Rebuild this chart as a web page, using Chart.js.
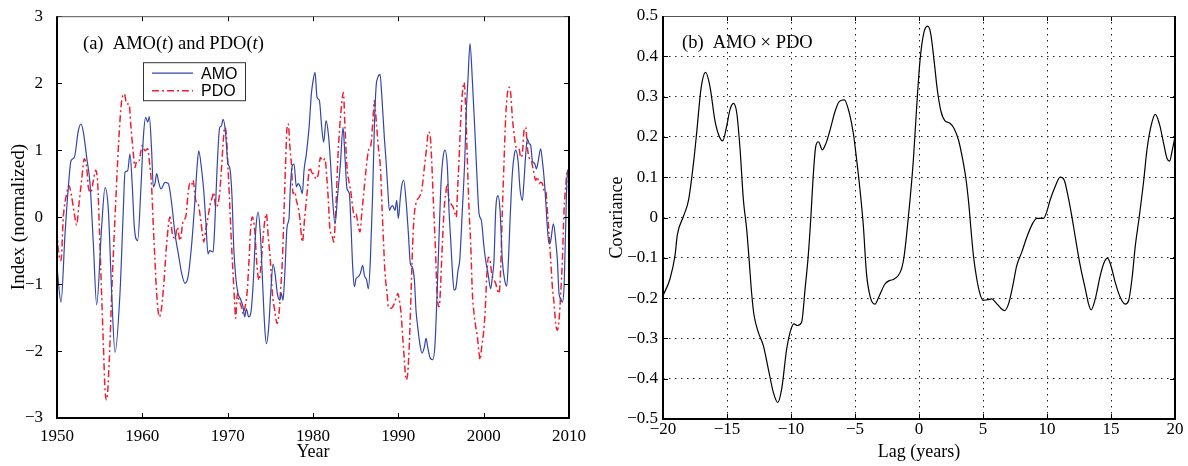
<!DOCTYPE html>
<html>
<head>
<meta charset="utf-8">
<script src="https://cdn.jsdelivr.net/npm/chart.js@4.4.1/dist/chart.umd.min.js"></script>
<style>
body { margin: 0; background: #fff; }
#wrap { position: relative; width: 1188px; height: 466px; }
canvas { position: absolute; top: 0; }
#c1 { left: 0; }
#c2 { left: 590px; }
</style>
</head>
<body>
<div id="wrap">
<canvas id="c1" width="590" height="466"></canvas>
<canvas id="c2" width="598" height="466"></canvas>
</div>
<script>
const amoYears = [1950.0, 1950.47, 1950.94, 1951.33, 1951.64, 1952.03, 1952.5, 1952.81, 1953.09, 1953.48, 1953.87, 1954.26, 1954.65, 1955.23, 1955.63, 1956.02, 1956.41, 1956.8, 1957.38, 1957.77, 1957.97, 1958.28, 1958.55, 1958.83, 1959.06, 1959.45, 1959.84, 1960.12, 1960.39, 1960.63, 1960.82, 1961.09, 1961.29, 1961.48, 1961.68, 1961.95, 1962.19, 1962.66, 1963.05, 1963.44, 1963.83, 1964.22, 1964.61, 1965.0, 1965.36, 1965.75, 1966.14, 1966.41, 1966.61, 1966.92, 1967.19, 1967.43, 1967.7, 1967.9, 1968.29, 1968.48, 1968.75, 1969.07, 1969.26, 1969.46, 1969.73, 1970.04, 1970.24, 1970.51, 1970.71, 1970.94, 1971.21, 1971.49, 1971.8, 1971.99, 1972.19, 1972.46, 1972.7, 1972.97, 1973.29, 1973.56, 1973.83, 1974.15, 1974.34, 1974.54, 1974.81, 1975.04, 1975.32, 1975.55, 1975.82, 1976.1, 1976.29, 1976.49, 1976.68, 1976.96, 1977.19, 1977.35, 1977.58, 1977.78, 1978.05, 1978.25, 1978.52, 1978.75, 1978.95, 1979.22, 1979.54, 1979.81, 1980.0, 1980.24, 1980.47, 1980.75, 1981.02, 1981.25, 1981.53, 1981.8, 1982.04, 1982.31, 1982.58, 1982.9, 1983.21, 1983.52, 1983.75, 1983.99, 1984.26, 1984.46, 1984.65, 1984.85, 1985.04, 1985.32, 1985.55, 1985.82, 1986.02, 1986.29, 1986.49, 1986.72, 1986.99, 1987.19, 1987.39, 1987.58, 1987.86, 1988.05, 1988.36, 1988.56, 1988.75, 1988.95, 1989.15, 1989.34, 1989.61, 1989.81, 1990.0, 1990.24, 1990.4, 1990.63, 1990.9, 1991.18, 1991.41, 1991.61, 1991.88, 1992.07, 1992.27, 1992.58, 1992.78, 1993.05, 1993.25, 1993.44, 1993.75, 1994.03, 1994.3, 1994.54, 1994.81, 1995.0, 1995.24, 1995.47, 1995.75, 1995.94, 1996.14, 1996.33, 1996.53, 1996.72, 1997.0, 1997.19, 1997.5, 1997.78, 1997.97, 1998.17, 1998.4, 1998.68, 1998.95, 1999.18, 1999.46, 1999.73, 2000.04, 2000.24, 2000.51, 2000.82, 2001.02, 2001.21, 2001.41, 2001.68, 2001.92, 2002.19, 2002.46, 2002.7, 2002.9, 2003.09, 2003.36, 2003.6, 2003.75, 2004.03, 2004.26, 2004.54, 2004.73, 2004.93, 2005.12, 2005.32, 2005.51, 2005.71, 2005.98, 2006.18, 2006.37, 2006.68, 2006.88, 2007.07, 2007.27, 2007.46, 2007.66, 2007.86, 2008.17, 2008.44, 2008.64, 2008.83, 2009.03, 2009.22, 2009.42, 2009.61, 2009.81, 2010.0];
const amoValues = [-0.74, -1.27, -0.25, 0.45, 0.84, 0.89, 1.29, 1.39, 1.27, 0.89, 0.5, -0.4, -1.31, -0.15, 0.44, 0.1, -1.14, -2.02, -1.14, 0.1, 0.67, 0.69, 0.94, 0.45, -0.15, -0.35, 0.45, 1.19, 1.49, 1.42, 1.5, 0.99, 0.45, 0.5, 0.65, 0.5, 0.42, 0.52, 0.5, 0.2, -0.25, -0.55, -0.84, -0.99, -0.89, -0.45, 0.2, 0.74, 0.99, 0.74, 0.4, -0.05, -0.55, -0.5, -0.52, -0.15, 0.7, 1.34, 1.36, 1.46, 1.29, 0.79, 0.74, 0.3, -0.45, -0.89, -1.14, -1.22, -1.34, -1.49, -1.37, -1.49, -1.44, -1.04, -0.2, 0.07, -0.25, -1.14, -1.64, -1.89, -1.64, -1.14, -0.7, -0.84, -1.14, -1.24, -1.14, -1.24, -0.89, -0.15, -0.02, 0.45, 0.77, 0.79, 0.45, 0.5, 0.45, 0.35, 0.7, 0.94, 1.34, 1.84, 2.03, 2.16, 1.79, 1.74, 1.34, 1.12, 1.44, 1.24, 0.84, 0.25, -0.1, 0.35, 0.79, 1.34, 0.89, 0.42, 0.35, -0.15, -0.74, -1.04, -0.92, -0.89, -0.84, -0.72, -0.87, -0.94, -1.07, -0.65, 0.35, 1.34, 1.94, 2.08, 2.13, 1.84, 1.19, 0.84, 0.45, 0.1, 0.15, 0.17, 0.1, 0.25, -0.02, 0.3, 0.47, 0.55, 0.25, -0.25, -0.7, -0.74, -0.94, -1.39, -1.64, -1.94, -2.03, -1.94, -1.81, -1.94, -2.11, -2.13, -1.89, -1.14, -0.15, 0.5, 0.89, 1.0, 0.74, 0.1, -0.35, -0.79, -1.09, -1.07, -0.79, -0.65, 0.1, 0.84, 1.59, 2.08, 2.59, 2.03, 1.34, 0.7, 0.05, -0.05, -0.45, -0.65, -0.84, -1.07, -0.89, -0.65, 0.1, 0.32, 0.1, -0.65, -0.94, -1.03, -0.65, -0.05, 0.65, 0.94, 1.0, 0.84, 0.42, 0.25, 0.55, 0.94, 1.17, 1.1, 1.07, 0.84, 0.8, 0.72, 0.82, 1.02, 0.84, 0.6, 0.25, -0.15, -0.4, -0.35, -0.1, -0.35, -0.65, -1.14, -1.22, -1.27, -1.04, -0.15, 0.7, 0.7];

const pdoYears = [1950.0, 1950.16, 1950.47, 1950.74, 1951.13, 1951.41, 1951.72, 1952.03, 1952.3, 1952.58, 1952.89, 1953.2, 1953.48, 1953.67, 1953.98, 1954.26, 1954.53, 1954.77, 1954.96, 1955.16, 1955.43, 1955.63, 1955.82, 1956.13, 1956.41, 1956.8, 1957.11, 1957.38, 1957.58, 1957.89, 1958.16, 1958.44, 1958.67, 1958.95, 1959.14, 1959.34, 1959.61, 1959.84, 1960.0, 1960.31, 1960.63, 1960.82, 1961.09, 1961.29, 1961.48, 1961.68, 1961.99, 1962.27, 1962.58, 1962.85, 1963.24, 1963.52, 1963.83, 1964.1, 1964.41, 1964.8, 1965.08, 1965.36, 1965.55, 1965.75, 1965.94, 1966.25, 1966.53, 1966.8, 1967.04, 1967.19, 1967.43, 1967.7, 1967.97, 1968.21, 1968.36, 1968.6, 1968.87, 1969.07, 1969.26, 1969.46, 1969.65, 1969.85, 1970.04, 1970.24, 1970.43, 1970.63, 1970.82, 1970.94, 1971.14, 1971.33, 1971.61, 1971.8, 1971.99, 1972.27, 1972.5, 1972.7, 1972.9, 1973.17, 1973.44, 1973.68, 1973.95, 1974.22, 1974.54, 1974.73, 1975.0, 1975.24, 1975.51, 1975.79, 1976.02, 1976.18, 1976.41, 1976.61, 1976.8, 1976.96, 1977.11, 1977.27, 1977.47, 1977.66, 1977.86, 1978.05, 1978.25, 1978.44, 1978.75, 1979.03, 1979.3, 1979.61, 1979.93, 1980.08, 1980.36, 1980.63, 1980.86, 1981.14, 1981.41, 1981.61, 1981.8, 1982.0, 1982.19, 1982.43, 1982.7, 1982.9, 1983.13, 1983.36, 1983.56, 1983.75, 1983.99, 1984.26, 1984.46, 1984.65, 1984.85, 1985.04, 1985.32, 1985.51, 1985.71, 1985.94, 1986.21, 1986.49, 1986.8, 1987.04, 1987.19, 1987.31, 1987.47, 1987.7, 1987.9, 1988.09, 1988.29, 1988.44, 1988.68, 1988.83, 1989.15, 1989.46, 1989.73, 1989.93, 1990.12, 1990.32, 1990.51, 1990.71, 1990.9, 1991.1, 1991.29, 1991.49, 1991.68, 1991.88, 1992.19, 1992.46, 1992.74, 1993.05, 1993.32, 1993.52, 1993.71, 1993.91, 1994.1, 1994.34, 1994.54, 1994.77, 1995.16, 1995.36, 1995.55, 1995.75, 1995.94, 1996.14, 1996.41, 1996.65, 1996.8, 1996.92, 1997.11, 1997.31, 1997.5, 1997.7, 1997.9, 1998.09, 1998.29, 1998.48, 1998.68, 1998.87, 1999.07, 1999.26, 1999.46, 1999.57, 1999.77, 1999.97, 2000.16, 2000.36, 2000.55, 2000.75, 2000.94, 2001.21, 2001.41, 2001.61, 2001.8, 2002.0, 2002.19, 2002.39, 2002.58, 2002.78, 2002.97, 2003.17, 2003.36, 2003.56, 2003.83, 2004.15, 2004.34, 2004.54, 2004.73, 2004.93, 2005.12, 2005.32, 2005.59, 2005.82, 2006.1, 2006.29, 2006.49, 2006.68, 2006.88, 2007.07, 2007.27, 2007.46, 2007.66, 2007.86, 2008.05, 2008.25, 2008.44, 2008.64, 2008.83, 2009.03, 2009.22, 2009.42, 2009.61, 2009.81, 2010.0];
const pdoValues = [-0.2, -0.5, -0.65, 0, 0.35, 0.47, 0.3, 0.05, -0.12, 0.2, 0.55, 0.87, 0.74, 0.45, 0.37, 0.55, 0.7, 0.5, -0.15, -0.9, -1.89, -2.58, -2.73, -2.13, -1.14, 0, 0.84, 1.44, 1.74, 1.84, 1.69, 1.69, 1.34, 0.94, 0.74, 0.84, 0.84, 0.99, 1.07, 0.99, 1.02, 0.84, 0.45, -0.15, -0.65, -1.14, -1.49, -1.34, -0.89, -0.4, 0, -0.25, -0.32, -0.15, -0.35, -0.05, 0, 0.35, 0.5, 0.47, 0.55, 0.25, 0.2, 0, -0.25, -0.37, -0.2, 0, 0.2, 0.3, 0.37, 0.15, 0.2, 0.37, 0.7, 1.09, 1.34, 1.22, 0.74, 0.2, -0.35, -0.84, -1.29, -1.51, -1.14, -1.24, -1.34, -1.44, -1.37, -1.14, -0.65, -0.15, 0, -0.2, -0.74, -0.94, -0.65, -0.2, 0.05, -0.25, -0.65, -1.14, -1.39, -1.59, -1.44, -1.14, -0.65, 0.1, 0.84, 1.34, 1.39, 1.09, 0.79, 0.35, 0.38, 0.25, 0.15, 0, -0.37, 0, 0.35, 0.74, 0.65, 0.65, 0.57, 0.65, 0.89, 0.84, 0.87, 0.6, 0.25, -0.2, -0.25, -0.37, 0.2, 0.84, 1.34, 1.69, 1.86, 1.34, 0.74, 0.5, 0.35, 0.15, 0, 0.05, -0.15, -0.22, 0.05, 0.35, 0.7, 0.99, 1.09, 1.49, 1.74, 1.6, 1.34, 0.99, 0.74, 0.15, -0.45, -0.84, -1.14, -1.34, -1.36, -1.31, -1.21, -1.14, -1.24, -1.44, -1.79, -2.13, -2.43, -2.33, -1.89, -1.14, -0.4, 0.05, 0.25, 0.3, 0.4, 0.74, 1.04, 1.27, 1.24, 0.84, 0.25, -0.45, -1.14, -1.34, -0.4, 0.1, 0.35, 0.5, 0.25, 0.2, 0.15, 0.05, 0, 0.35, 0.84, 1.44, 1.84, 2.01, 1.59, 0.84, 0.1, -0.4, -1.14, -1.44, -1.64, -1.79, -2.03, -2.13, -1.94, -1.74, -1.44, -0.89, -0.6, -0.65, -0.84, -0.94, -0.99, -1.09, -1.14, -0.74, 0.1, 0.84, 1.49, 1.84, 1.94, 1.84, 1.49, 1.24, 1.04, 1.02, 0.89, 0.95, 1.29, 1.34, 1.04, 0.89, 0.84, 0.7, 0.55, 0.6, 0.5, 0.52, 0.5, 0.4, 0.4, 0.1, -0.25, -0.65, -1.04, -1.29, -1.59, -1.69, -1.54, -1.14, -0.65, 0.1, 0.45, 0.7, 0.3];

const yearTicks = [1950, 1960, 1970, 1980, 1990, 2000, 2010];
const indexTicks = [-3, -2, -1, 0, 1, 2, 3];

const lagYears = [-20, -19.45, -19.06, -18.88, -18.4, -18.0, -17.6, -17.37, -17.03, -16.67, -16.33, -15.94, -15.55, -15.34, -15.03, -14.77, -14.5, -14.24, -13.98, -13.72, -13.46, -13.26, -13.07, -12.9, -12.55, -12.16, -11.77, -11.38, -11.04, -10.73, -10.34, -10.0, -9.77, -9.5, -9.17, -8.9, -8.65, -8.45, -8.25, -8.07, -7.86, -7.55, -7.27, -6.95, -6.56, -6.22, -5.83, -5.44, -5.13, -4.87, -4.61, -4.35, -4.1, -3.8, -3.44, -3.1, -2.66, -2.27, -2.0, -1.62, -1.36, -1.17, -0.96, -0.7, -0.44, -0.18, 0.08, 0.39, 0.68, 0.91, 1.2, 1.43, 1.72, 2.03, 2.42, 2.74, 3.08, 3.42, 3.68, 3.91, 4.04, 4.25, 4.51, 4.77, 5.03, 5.35, 5.68, 6.02, 6.39, 6.68, 6.99, 7.33, 7.64, 8.03, 8.42, 8.89, 9.2, 9.73, 9.99, 10.25, 10.64, 11.03, 11.34, 11.6, 11.94, 12.2, 12.6, 12.99, 13.25, 13.45, 13.77, 14.16, 14.47, 14.73, 14.99, 15.33, 15.72, 16.11, 16.38, 16.64, 16.9, 17.2, 17.55, 17.81, 18.12, 18.46, 18.8, 19.11, 19.37, 19.58, 19.79, 20.0];
const covValues = [-0.194, -0.152, -0.094, -0.043, 0.003, 0.044, 0.14, 0.21, 0.32, 0.36, 0.325, 0.24, 0.197, 0.19, 0.226, 0.267, 0.283, 0.26, 0.17, 0.044, -0.03, -0.11, -0.19, -0.24, -0.285, -0.318, -0.376, -0.434, -0.459, -0.426, -0.327, -0.277, -0.264, -0.268, -0.26, -0.177, -0.094, 0.0, 0.11, 0.176, 0.188, 0.168, 0.184, 0.217, 0.263, 0.288, 0.292, 0.259, 0.209, 0.143, 0.069, -0.02, -0.14, -0.198, -0.215, -0.194, -0.165, -0.156, -0.154, -0.144, -0.127, -0.098, -0.04, 0.044, 0.143, 0.275, 0.39, 0.46, 0.475, 0.457, 0.383, 0.317, 0.263, 0.24, 0.234, 0.221, 0.193, 0.143, 0.093, 0.027, -0.022, -0.094, -0.152, -0.19, -0.206, -0.204, -0.202, -0.212, -0.225, -0.231, -0.215, -0.169, -0.119, -0.086, -0.049, -0.014, -0.002, -0.002, 0.015, 0.044, 0.077, 0.1, 0.093, 0.06, 0.003, -0.047, -0.12, -0.177, -0.215, -0.229, -0.202, -0.144, -0.111, -0.101, -0.119, -0.161, -0.198, -0.215, -0.206, -0.152, -0.07, 0.0, 0.09, 0.168, 0.226, 0.256, 0.23, 0.184, 0.147, 0.14, 0.168, 0.2];

const lagTicks = [-20, -15, -10, -5, 0, 5, 10, 15, 20];
const covTicks = [-0.5, -0.4, -0.3, -0.2, -0.1, 0, 0.1, 0.2, 0.3, 0.4, 0.5];

const serif = "'Liberation Serif', 'DejaVu Serif', serif";
const sans = "'Liberation Sans', Arial, sans-serif";

function toPoints(xs, ys) {
    return xs.map((x, i) => ({ x: x, y: ys[i] }));
}

function signed(v, digits) {
    if (Math.abs(v) < 1e-9) return '0';
    const s = Math.abs(v).toFixed(digits);
    return v < 0 ? '\u2212' + s : s;
}

function fixedTicks(list) {
    return function(scale) {
        scale.ticks = list.map(v => ({ value: v }));
    };
}

// box round the plot with tick marks pointing inward
const framePlugin = {
    id: 'frame',
    afterDatasetsDraw(chart) {
        const ctx = chart.ctx;
        const a = chart.chartArea;
        const xs = chart.scales.x, ys = chart.scales.y;
        ctx.save();
        ctx.strokeStyle = '#000';
        ctx.lineWidth = 1;
        ctx.beginPath();
        xs.ticks.forEach(t => {
            const px = Math.round(xs.getPixelForValue(t.value)) + 0.5;
            ctx.moveTo(px, a.bottom); ctx.lineTo(px, a.bottom - 5);
            ctx.moveTo(px, a.top); ctx.lineTo(px, a.top + 5);
        });
        ys.ticks.forEach(t => {
            const py = Math.round(ys.getPixelForValue(t.value)) + 0.5;
            ctx.moveTo(a.left, py); ctx.lineTo(a.left + 5, py);
            ctx.moveTo(a.right, py); ctx.lineTo(a.right - 5, py);
        });
        ctx.stroke();
        ctx.strokeStyle = '#555';
        ctx.lineWidth = 1;
        ctx.beginPath();
        ctx.moveTo(a.left, a.top + 0.5); ctx.lineTo(a.right, a.top + 0.5);
        ctx.stroke();
        ctx.strokeStyle = '#000';
        ctx.lineWidth = 2;
        ctx.beginPath();
        ctx.moveTo(a.left, a.top); ctx.lineTo(a.left, a.bottom); ctx.lineTo(a.right, a.bottom); ctx.lineTo(a.right, a.top);
        ctx.stroke();
        ctx.restore();
    }
};

function panelTitle(parts, dx, dy) {
    return {
        id: 'panelTitle',
        afterDraw(chart) {
            const ctx = chart.ctx;
            const a = chart.chartArea;
            let x = a.left + dx;
            ctx.save();
            ctx.fillStyle = '#000';
            ctx.textBaseline = 'alphabetic';
            parts.forEach(p => {
                ctx.font = (p.italic ? 'italic ' : '') + '18.5px ' + serif;
                ctx.fillText(p.text, x, a.top + dy);
                x += ctx.measureText(p.text).width;
            });
            ctx.restore();
        }
    };
}

const boxLegend = {
    id: 'boxLegend',
    afterDraw(chart) {
        const ctx = chart.ctx;
        const a = chart.chartArea;
        const bx = a.left + 86, by = a.top + 46, bw = 102, bh = 38;
        ctx.save();
        ctx.fillStyle = '#fff';
        ctx.fillRect(bx, by, bw, bh);
        ctx.strokeStyle = '#333';
        ctx.lineWidth = 1;
        ctx.strokeRect(bx + 0.5, by + 0.5, bw, bh);
        chart.data.datasets.forEach((ds, i) => {
            const ly = by + 11 + i * 17.5;
            ctx.strokeStyle = ds.borderColor;
            ctx.lineWidth = ds.borderWidth;
            ctx.setLineDash(ds.borderDash || []);
            ctx.beginPath();
            ctx.moveTo(bx + 9, ly); ctx.lineTo(bx + 50, ly);
            ctx.stroke();
            ctx.setLineDash([]);
            ctx.fillStyle = '#000';
            ctx.font = '16px ' + sans;
            ctx.textBaseline = 'middle';
            ctx.fillText(ds.label, bx + 58, ly + 1);
        });
        ctx.restore();
    }
};

new Chart(document.getElementById('c1'), {
    type: 'line',
    data: {
        datasets: [{
            label: 'AMO',
            data: toPoints(amoYears, amoValues),
            borderColor: '#3345a8',
            borderWidth: 1.2,
            pointRadius: 0,
            cubicInterpolationMode: 'monotone',
            fill: false
        }, {
            label: 'PDO',
            data: toPoints(pdoYears, pdoValues),
            borderColor: '#ee2030',
            borderWidth: 1.5,
            borderDash: [7, 3, 2, 3],
            pointRadius: 0,
            cubicInterpolationMode: 'monotone',
            fill: false
        }]
    },
    options: {
        responsive: false,
        animation: false,
        layout: { padding: { left: 0, right: 21, top: 15, bottom: 0 } },
        plugins: { legend: { display: false }, tooltip: { enabled: false } },
        scales: {
            x: {
                type: 'linear',
                min: 1950,
                max: 2010,
                afterBuildTicks: fixedTicks(yearTicks),
                afterFit: s => { s.height = 48; },
                grid: { display: false },
                border: { display: false },
                ticks: { color: '#000', font: { family: serif, size: 17 }, padding: 0, maxRotation: 0, autoSkip: false, callback: v => signed(v, 0) },
                title: { display: true, text: 'Year', color: '#000', font: { family: serif, size: 18 }, padding: { top: 0, bottom: 3 } }
            },
            y: {
                type: 'linear',
                min: -3,
                max: 3,
                afterBuildTicks: fixedTicks(indexTicks),
                afterFit: s => { s.width = 57; },
                grid: { display: false },
                border: { display: false },
                ticks: { color: '#000', font: { family: serif, size: 17 }, padding: 6, autoSkip: false, callback: v => signed(v, 0) },
                title: { display: true, text: 'Index (normalized)', color: '#000', font: { family: serif, size: 19 }, padding: { top: 8, bottom: 0 } }
            }
        }
    },
    plugins: [framePlugin, boxLegend, panelTitle([
        { text: '(a)  AMO(' }, { text: 't', italic: true }, { text: ') and PDO(' }, { text: 't', italic: true }, { text: ')' }
    ], 26, 33)]
});

new Chart(document.getElementById('c2'), {
    type: 'line',
    data: {
        datasets: [{
            label: 'AMO x PDO',
            data: toPoints(lagYears, covValues),
            borderColor: '#000',
            borderWidth: 1.2,
            pointRadius: 0,
            cubicInterpolationMode: 'monotone',
            fill: false
        }]
    },
    options: {
        responsive: false,
        animation: false,
        layout: { padding: { left: 0, right: 13, top: 16, bottom: 0 } },
        plugins: { legend: { display: false }, tooltip: { enabled: false } },
        scales: {
            x: {
                type: 'linear',
                min: -20,
                max: 20,
                afterBuildTicks: fixedTicks(lagTicks),
                afterFit: s => { s.height = 47; },
                grid: { display: true, drawTicks: false, color: '#222', lineWidth: 1 },
                border: { display: false, dash: [1.5, 4.5] },
                ticks: { color: '#000', font: { family: serif, size: 17 }, padding: 0, maxRotation: 0, autoSkip: false, callback: v => signed(v, 0) },
                title: { display: true, text: 'Lag (years)', color: '#000', font: { family: serif, size: 18 }, padding: { top: 0, bottom: 3 } }
            },
            y: {
                type: 'linear',
                min: -0.5,
                max: 0.5,
                afterBuildTicks: fixedTicks(covTicks),
                afterFit: s => { s.width = 73; },
                grid: { display: true, drawTicks: false, color: '#222', lineWidth: 1 },
                border: { display: false, dash: [1.5, 4.5] },
                ticks: { color: '#000', font: { family: serif, size: 17 }, padding: 5, autoSkip: false, callback: v => signed(v, 1) },
                title: { display: true, text: 'Covariance', color: '#000', font: { family: serif, size: 18 }, padding: { top: 16, bottom: 0 } }
            }
        }
    },
    plugins: [framePlugin, panelTitle([{ text: '(b)  AMO \u00d7 PDO' }], 19, 32)]
});
</script>
</body>
</html>
